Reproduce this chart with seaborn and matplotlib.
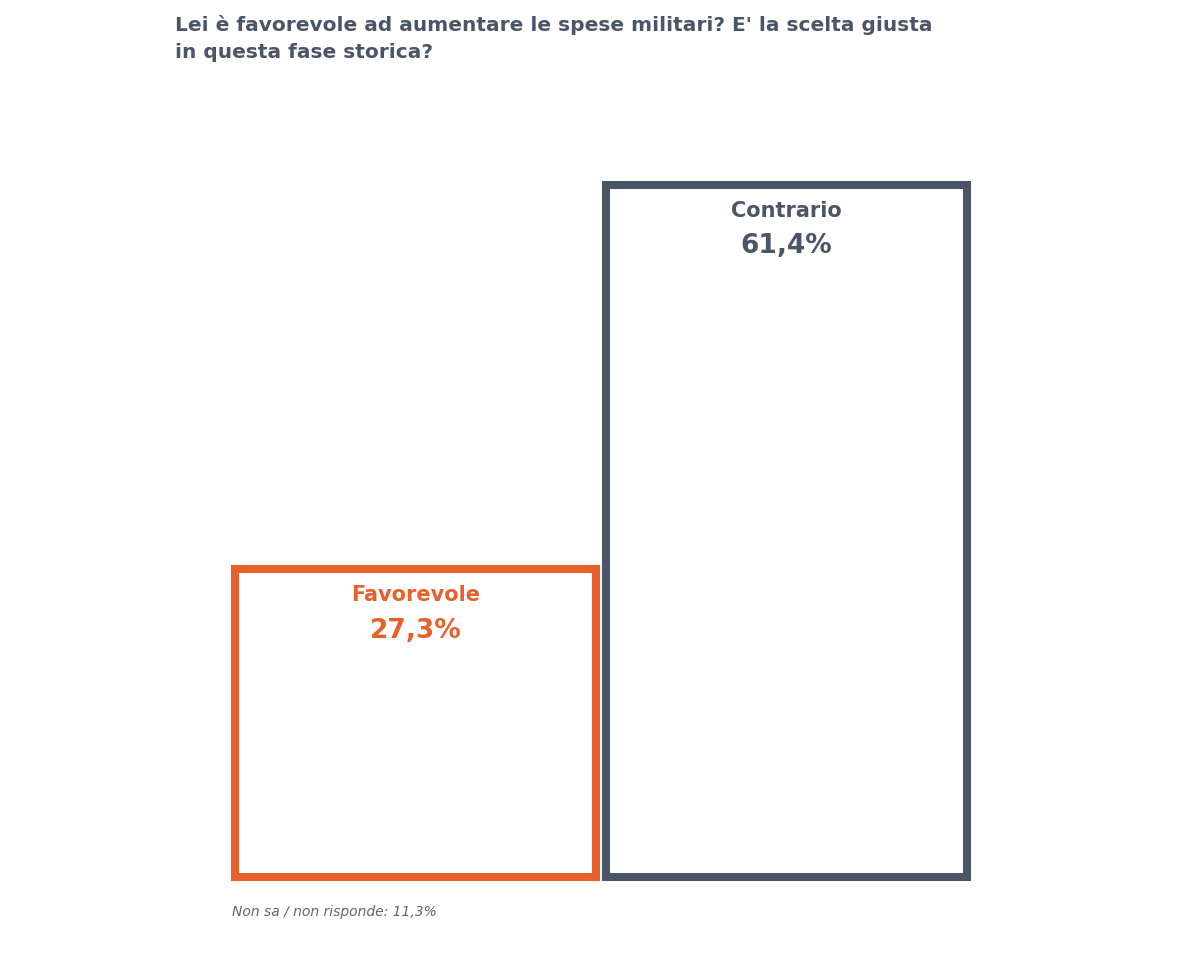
import matplotlib
matplotlib.use("Agg")
import matplotlib.pyplot as plt
import seaborn as sns
import pandas as pd

categories = ["Favorevole", "Contrario"]
values = [27.3, 61.4]
value_labels = ["27,3%", "61,4%"]
colors = ["#E8612C", "#4A5568"]
title = "Lei è favorevole ad aumentare le spese militari? E' la scelta giusta\nin questa fase storica?"
footnote = "Non sa / non risponde: 11,3%"

sns.set_style("white")
plt.rcParams['font.family'] = ['DejaVu Sans']

W, H = 1200, 957
fig = plt.figure(figsize=(W/100, H/100), dpi=100)
ax = fig.add_axes([235/W, 1-877/H, 732/W, 777/H])
df = pd.DataFrame({"cat": categories, "val": values})
sns.barplot(data=df, x="cat", y="val", ax=ax, width=0.975, fill=False)
for p, c in zip(ax.patches, colors):
    p.set_edgecolor(c)
    p.set_linewidth(5.8)
    p.set_facecolor("none")
    p.set_clip_on(False)
ax.set_xlim(-0.4875, 1.4875)
ax.set_ylim(0, 777/11.27)
ax.axis("off")
for i, (v, lab, c, name) in enumerate(zip(values, value_labels, colors, categories)):
    ax.text(i, v - 1.4, name, ha="center", va="top", color=c, fontsize=15, fontweight="bold")
    ax.text(i, v - 4.3, lab, ha="center", va="top", color=c, fontsize=19, fontweight="bold")
fig.text(175/W, 1-15/H, title, ha="left", va="top", color="#4A5568", fontsize=14.5, fontweight="bold", linespacing=1.5)
fig.text(232/W, 1-912/H, footnote, ha="left", va="center", color="#666666", fontsize=10, style="italic")
fig.savefig("out.png", dpi=100, facecolor="white")
